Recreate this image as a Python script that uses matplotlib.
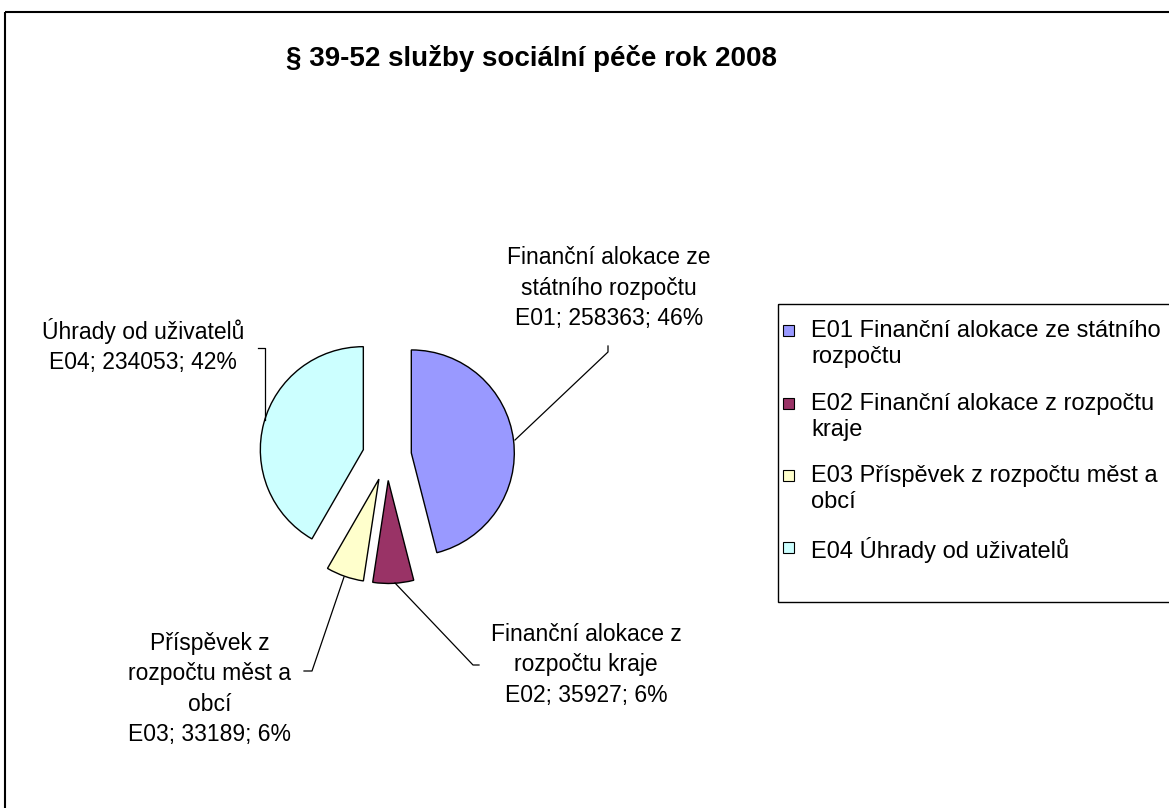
import numpy as np
import matplotlib.pyplot as plt
from matplotlib.patches import Rectangle

plt.rcParams['font.family'] = ['Liberation Sans', 'DejaVu Sans']

# data
codes = ["E01", "E02", "E03", "E04"]
names = ["Finanční alokace ze státního rozpočtu",
         "Finanční alokace z rozpočtu kraje",
         "Příspěvek z rozpočtu měst a obcí",
         "Úhrady od uživatelů"]
values = [258363, 35927, 33189, 234053]
colors = ["#9999FF", "#993366", "#FFFFCC", "#CCFFFF"]

# wrapped text as shown on the chart
slice_labels = ["Finanční alokace ze\nstátního rozpočtu",
                "Finanční alokace z\nrozpočtu kraje",
                "Příspěvek z\nrozpočtu měst a\nobcí",
                "Úhrady od uživatelů"]
legend_labels = ["E01 Finanční alokace ze státního\nrozpočtu",
                 "E02 Finanční alokace z rozpočtu\nkraje",
                 "E03 Příspěvek z rozpočtu měst a\nobcí",
                 "E04 Úhrady od uživatelů"]

W, H = 1169, 808
fig = plt.figure(figsize=(W / 100, H / 100), dpi=100)
ax = fig.add_axes([0, 0, 1, 1])

# pie in pixel coordinates (y axis pointing down)
cx, cy, r = 387.0, 456, 103
ax.pie(values, colors=colors, startangle=-90, counterclock=True,
       center=(cx, cy), radius=r, explode=[24.5] * 4,
       wedgeprops=dict(edgecolor="black", linewidth=1.0))

ax.set_xlim(0, W)
ax.set_ylim(H, 0)
ax.set_aspect("equal")
ax.axis("off")

total = sum(values)
pcts = [round(v / total * 100) for v in values]

# label positions and leader lines
label_pos = [(609, 288), (586, 665), (210, 689), (143, 346)]
leaders = [
    [(515, 440), (608, 352), (608, 346)],
    [(395, 583), (473, 665), (479, 665)],
    [(344, 577), (312, 671), (304, 671)],
    [(258, 348), (265, 348), (265, 420)],
]
for i in range(4):
    txt = "%s\n%s; %d; %d%%" % (slice_labels[i], codes[i], values[i], pcts[i])
    ax.text(label_pos[i][0], label_pos[i][1], txt, ha="center", va="center",
            multialignment="center", fontsize=16.5, linespacing=1.42)
    xs, ys = zip(*leaders[i])
    ax.plot(xs, ys, color="black", lw=0.9)

# title
ax.text(532, 58, "§ 39-52 služby sociální péče rok 2008", ha="center", va="center",
        fontsize=20, fontweight="bold")

# outer frame and legend box
ax.add_patch(Rectangle((5, 12), W + 20, H + 20, fill=False, edgecolor="black", lw=1.5))
ax.add_patch(Rectangle((778, 304), W, 298, fill=False, edgecolor="black", lw=1.0))

leg_y = [330, 403, 475, 547]
for i in range(4):
    ax.add_patch(Rectangle((783, leg_y[i] - 5), 11, 11, facecolor=colors[i],
                           edgecolor="black", lw=0.8))
    ax.text(811, leg_y[i] - 10, legend_labels[i], ha="left", va="top",
            fontsize=17, linespacing=1.25)

fig.savefig("out.png", dpi=100)
